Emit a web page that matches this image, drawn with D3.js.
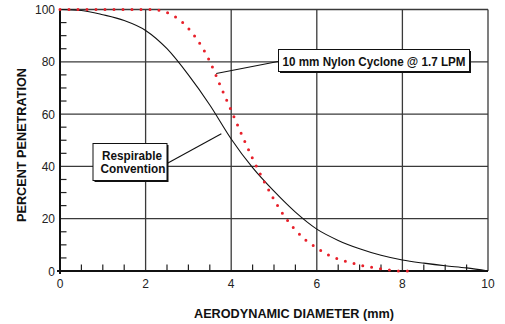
<!DOCTYPE html>
<html><head><meta charset="utf-8">
<script src="https://cdn.jsdelivr.net/npm/d3@7"></script>
<style>body{margin:0;background:#fff}svg{display:block}</style>
</head><body>
<svg id="c" width="505" height="324"></svg>
<script>
// Respirable convention (solid black)
const respX = [0,0.5,1,1.5,2,2.5,3,3.5,4,4.5,5,5.5,6,6.5,7,7.5,8,8.5,9,9.5,10];
const respY = [100,99.6,98,95.8,92,85,75,63.5,50.5,39.5,30.5,22.5,16,11.7,8.5,6,4.2,3,2,1.2,0];
// 10 mm Nylon Cyclone @ 1.7 LPM (red dotted)
const cycX = [0,1,2,2.2,2.5,2.75,3,3.25,3.5,3.75,4,4.25,4.5,4.75,5,5.25,5.5,5.75,6,6.25,6.5,6.75,7,7.25,7.5,7.75,8,8.25];
const cycY = [100,100,100,99.9,98.8,96.6,92.8,87.4,80.2,70.7,61.4,52,43,34.8,27.3,20.8,15.7,11.7,8.8,6.3,4.6,3.4,2.3,1.5,0.8,0.25,0,0];
const xTicks = [0,2,4,6,8,10];
const yTicks = [0,20,40,60,80,100];
const xLabel = "AERODYNAMIC DIAMETER (mm)";
const yLabel = "PERCENT  PENETRATION";
const cycLabel = "10 mm Nylon Cyclone @ 1.7 LPM";
const respLabel = ["Respirable","Convention"];

const svg = d3.select("#c");
const x = d3.scaleLinear().domain([0,10]).range([60,488]);
const y = d3.scaleLinear().domain([0,100]).range([271,9.5]);
const font = "'Liberation Sans', Arial, sans-serif";

// grid
const g = svg.append("g");
g.selectAll(".gx").data(xTicks.slice(1)).join("line")
  .attr("x1",d=>x(d)).attr("x2",d=>x(d)).attr("y1",y(0)).attr("y2",y(100))
  .attr("stroke","#3a3a3a").attr("stroke-width",1.3);
g.selectAll(".gy").data(yTicks.slice(1)).join("line")
  .attr("x1",x(0)).attr("x2",x(10)).attr("y1",d=>y(d)).attr("y2",d=>y(d))
  .attr("stroke","#3a3a3a").attr("stroke-width",1.3);

// minor ticks
const xMinor = d3.range(0.5,10,0.5).filter(v=>v%2!==0);
g.selectAll(".tx").data(xMinor).join("line")
  .attr("x1",d=>x(d)).attr("x2",d=>x(d)).attr("y1",y(0)).attr("y2",y(0)-6.5)
  .attr("stroke","#222").attr("stroke-width",1.2);
const yMinor = d3.range(5,100,5).filter(v=>v%20!==0);
g.selectAll(".ty").data(yMinor).join("line")
  .attr("x1",x(0)).attr("x2",x(0)+6.5).attr("y1",d=>y(d)).attr("y2",d=>y(d))
  .attr("stroke","#222").attr("stroke-width",1.2);

// axes lines
svg.append("line").attr("x1",x(0)-3).attr("x2",x(10)).attr("y1",y(0)).attr("y2",y(0))
  .attr("stroke","#111").attr("stroke-width",2);
svg.append("line").attr("x1",x(0)).attr("x2",x(0)).attr("y1",y(0)+3).attr("y2",y(100))
  .attr("stroke","#111").attr("stroke-width",2);

// tick labels
svg.selectAll(".xl").data(xTicks).join("text")
  .attr("x",d=>x(d)).attr("y",y(0)+17).attr("text-anchor","middle")
  .attr("font-family",font).attr("font-size",12).attr("fill","#222").text(d=>d);
svg.selectAll(".yl").data(yTicks).join("text")
  .attr("x",x(0)-5).attr("y",d=>y(d)+4.5).attr("text-anchor","end")
  .attr("font-family",font).attr("font-size",12).attr("fill","#222").text(d=>d);

// curves
const line = d3.line().x(d=>x(d[0])).y(d=>y(d[1])).curve(d3.curveMonotoneX);
svg.append("path").attr("d",line(respX.map((v,i)=>[v,respY[i]])))
  .attr("fill","none").attr("stroke","#111").attr("stroke-width",1.1);
svg.append("path").attr("d",line(cycX.map((v,i)=>[v,cycY[i]])))
  .attr("fill","none").attr("stroke","#e8202a").attr("stroke-width",3)
  .attr("stroke-linecap","round").attr("stroke-dasharray","0,9");

// annotation: cyclone
function box(x0,y0,w,h){
  svg.append("rect").attr("x",x0+1.5).attr("y",y0+1.5).attr("width",w).attr("height",h).attr("fill","#111");
  svg.append("rect").attr("x",x0).attr("y",y0).attr("width",w).attr("height",h)
    .attr("fill","#fff").attr("stroke","#111").attr("stroke-width",1);
}
svg.append("line").attr("x1",x(3.65)).attr("y1",y(75.5)).attr("x2",278).attr("y2",61.5)
  .attr("stroke","#111").attr("stroke-width",1.1);
box(278.5,49.5,191,22);
svg.append("text").attr("x",374).attr("y",65.5).attr("text-anchor","middle")
  .attr("font-family",font).attr("font-weight","bold").attr("font-size",12).attr("fill","#111")
  .attr("textLength",183).attr("lengthAdjust","spacingAndGlyphs").text(cycLabel);

// annotation: respirable
svg.append("line").attr("x1",x(3.77)).attr("y1",y(52.5)).attr("x2",167).attr("y2",163.5)
  .attr("stroke","#111").attr("stroke-width",1.1);
box(93,143.5,74,37);
svg.append("text").attr("x",132).attr("y",160).attr("text-anchor","middle")
  .attr("font-family",font).attr("font-weight","bold").attr("font-size",12).attr("fill","#111")
  .attr("textLength",60).attr("lengthAdjust","spacingAndGlyphs").text(respLabel[0]);
svg.append("text").attr("x",133).attr("y",172.5).attr("text-anchor","middle")
  .attr("font-family",font).attr("font-weight","bold").attr("font-size",12).attr("fill","#111")
  .attr("textLength",65).attr("lengthAdjust","spacingAndGlyphs").text(respLabel[1]);

// axis titles
svg.append("text").attr("x",294).attr("y",317.5).attr("text-anchor","middle")
  .attr("font-family",font).attr("font-weight","bold").attr("font-size",12).attr("fill","#111")
  .attr("textLength",200).attr("lengthAdjust","spacingAndGlyphs").text(xLabel);
svg.append("text").attr("transform","translate(26,145) rotate(-90)").attr("text-anchor","middle")
  .attr("font-family",font).attr("font-weight","bold").attr("font-size",12).attr("fill","#111")
  .attr("textLength",154).attr("lengthAdjust","spacingAndGlyphs").text(yLabel);
</script>
</body></html>
